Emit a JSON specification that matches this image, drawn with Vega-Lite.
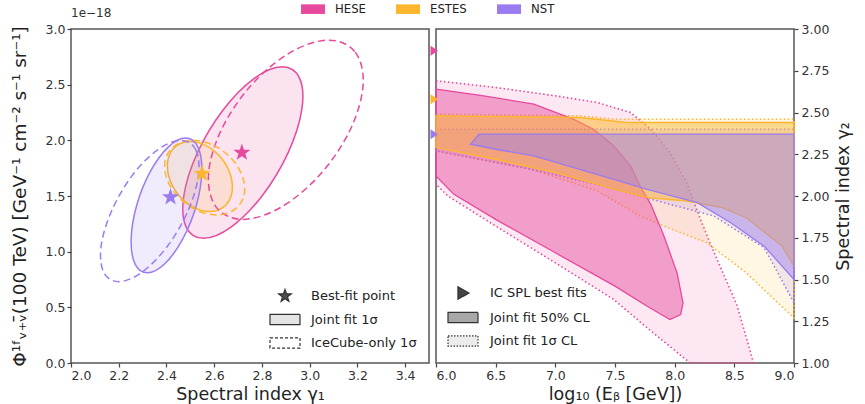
{
  "$schema": "https://vega.github.io/schema/vega-lite/v6.json",
  "padding": {"left": 9, "top": 3, "right": 6, "bottom": 4},
  "background": "white",
  "config": {
    "font": "DejaVu Sans",
    "view": {"stroke": "#555555", "strokeWidth": 1.5},
    "axis": {
      "labelFont": "DejaVu Sans", "titleFont": "DejaVu Sans",
      "labelFontSize": 12.5, "titleFontSize": 17.5, "titleFontWeight": "normal",
      "labelColor": "#333333", "titleColor": "#222222",
      "tickColor": "#444444", "tickSize": 4, "tickWidth": 1.2,
      "domain": false, "grid": false, "labelPadding": 2
    },
    "legend": {"labelFont": "DejaVu Sans", "labelColor": "#222222", "layout": {"top": {"anchor": "middle"}}}
  },
  "datasets": {
    "ellipses": [
      {"sample": "HESE", "fit": "joint", "i": 0, "gamma1": 2.885, "flux": 2.66},
      {"sample": "HESE", "fit": "joint", "i": 1, "gamma1": 2.958, "flux": 2.557},
      {"sample": "HESE", "fit": "joint", "i": 2, "gamma1": 2.967, "flux": 2.275},
      {"sample": "HESE", "fit": "joint", "i": 3, "gamma1": 2.91, "flux": 1.89},
      {"sample": "HESE", "fit": "joint", "i": 4, "gamma1": 2.802, "flux": 1.505},
      {"sample": "HESE", "fit": "joint", "i": 5, "gamma1": 2.672, "flux": 1.223},
      {"sample": "HESE", "fit": "joint", "i": 6, "gamma1": 2.555, "flux": 1.12},
      {"sample": "HESE", "fit": "joint", "i": 7, "gamma1": 2.482, "flux": 1.223},
      {"sample": "HESE", "fit": "joint", "i": 8, "gamma1": 2.473, "flux": 1.505},
      {"sample": "HESE", "fit": "joint", "i": 9, "gamma1": 2.53, "flux": 1.89},
      {"sample": "HESE", "fit": "joint", "i": 10, "gamma1": 2.638, "flux": 2.275},
      {"sample": "HESE", "fit": "joint", "i": 11, "gamma1": 2.768, "flux": 2.557},
      {"sample": "ESTES", "fit": "joint", "i": 0, "gamma1": 2.50, "flux": 1.99},
      {"sample": "ESTES", "fit": "joint", "i": 1, "gamma1": 2.570, "flux": 1.948},
      {"sample": "ESTES", "fit": "joint", "i": 2, "gamma1": 2.633, "flux": 1.833},
      {"sample": "ESTES", "fit": "joint", "i": 3, "gamma1": 2.67, "flux": 1.675},
      {"sample": "ESTES", "fit": "joint", "i": 4, "gamma1": 2.673, "flux": 1.518},
      {"sample": "ESTES", "fit": "joint", "i": 5, "gamma1": 2.640, "flux": 1.402},
      {"sample": "ESTES", "fit": "joint", "i": 6, "gamma1": 2.58, "flux": 1.36},
      {"sample": "ESTES", "fit": "joint", "i": 7, "gamma1": 2.510, "flux": 1.402},
      {"sample": "ESTES", "fit": "joint", "i": 8, "gamma1": 2.447, "flux": 1.518},
      {"sample": "ESTES", "fit": "joint", "i": 9, "gamma1": 2.41, "flux": 1.675},
      {"sample": "ESTES", "fit": "joint", "i": 10, "gamma1": 2.407, "flux": 1.833},
      {"sample": "ESTES", "fit": "joint", "i": 11, "gamma1": 2.440, "flux": 1.948},
      {"sample": "NST", "fit": "joint", "i": 0, "gamma1": 2.48, "flux": 2.02},
      {"sample": "NST", "fit": "joint", "i": 1, "gamma1": 2.532, "flux": 1.939},
      {"sample": "NST", "fit": "joint", "i": 2, "gamma1": 2.548, "flux": 1.718},
      {"sample": "NST", "fit": "joint", "i": 3, "gamma1": 2.525, "flux": 1.415},
      {"sample": "NST", "fit": "joint", "i": 4, "gamma1": 2.468, "flux": 1.113},
      {"sample": "NST", "fit": "joint", "i": 5, "gamma1": 2.393, "flux": 0.891},
      {"sample": "NST", "fit": "joint", "i": 6, "gamma1": 2.32, "flux": 0.81},
      {"sample": "NST", "fit": "joint", "i": 7, "gamma1": 2.268, "flux": 0.891},
      {"sample": "NST", "fit": "joint", "i": 8, "gamma1": 2.252, "flux": 1.113},
      {"sample": "NST", "fit": "joint", "i": 9, "gamma1": 2.275, "flux": 1.415},
      {"sample": "NST", "fit": "joint", "i": 10, "gamma1": 2.332, "flux": 1.718},
      {"sample": "NST", "fit": "joint", "i": 11, "gamma1": 2.407, "flux": 1.939},
      {"sample": "HESE", "fit": "icecube", "i": 0, "gamma1": 3.08, "flux": 2.90},
      {"sample": "HESE", "fit": "icecube", "i": 1, "gamma1": 3.191, "flux": 2.792},
      {"sample": "HESE", "fit": "icecube", "i": 2, "gamma1": 3.224, "flux": 2.498},
      {"sample": "HESE", "fit": "icecube", "i": 3, "gamma1": 3.17, "flux": 2.095},
      {"sample": "HESE", "fit": "icecube", "i": 4, "gamma1": 3.044, "flux": 1.693},
      {"sample": "HESE", "fit": "icecube", "i": 5, "gamma1": 2.879, "flux": 1.398},
      {"sample": "HESE", "fit": "icecube", "i": 6, "gamma1": 2.72, "flux": 1.29},
      {"sample": "HESE", "fit": "icecube", "i": 7, "gamma1": 2.609, "flux": 1.398},
      {"sample": "HESE", "fit": "icecube", "i": 8, "gamma1": 2.576, "flux": 1.693},
      {"sample": "HESE", "fit": "icecube", "i": 9, "gamma1": 2.63, "flux": 2.095},
      {"sample": "HESE", "fit": "icecube", "i": 10, "gamma1": 2.756, "flux": 2.498},
      {"sample": "HESE", "fit": "icecube", "i": 11, "gamma1": 2.921, "flux": 2.792},
      {"sample": "ESTES", "fit": "icecube", "i": 0, "gamma1": 2.51, "flux": 2.00},
      {"sample": "ESTES", "fit": "icecube", "i": 1, "gamma1": 2.597, "flux": 1.955},
      {"sample": "ESTES", "fit": "icecube", "i": 2, "gamma1": 2.674, "flux": 1.833},
      {"sample": "ESTES", "fit": "icecube", "i": 3, "gamma1": 2.72, "flux": 1.665},
      {"sample": "ESTES", "fit": "icecube", "i": 4, "gamma1": 2.724, "flux": 1.498},
      {"sample": "ESTES", "fit": "icecube", "i": 5, "gamma1": 2.683, "flux": 1.375},
      {"sample": "ESTES", "fit": "icecube", "i": 6, "gamma1": 2.61, "flux": 1.33},
      {"sample": "ESTES", "fit": "icecube", "i": 7, "gamma1": 2.523, "flux": 1.375},
      {"sample": "ESTES", "fit": "icecube", "i": 8, "gamma1": 2.446, "flux": 1.498},
      {"sample": "ESTES", "fit": "icecube", "i": 9, "gamma1": 2.40, "flux": 1.665},
      {"sample": "ESTES", "fit": "icecube", "i": 10, "gamma1": 2.396, "flux": 1.833},
      {"sample": "ESTES", "fit": "icecube", "i": 11, "gamma1": 2.437, "flux": 1.955},
      {"sample": "NST", "fit": "icecube", "i": 0, "gamma1": 2.46, "flux": 2.00},
      {"sample": "NST", "fit": "icecube", "i": 1, "gamma1": 2.523, "flux": 1.915},
      {"sample": "NST", "fit": "icecube", "i": 2, "gamma1": 2.534, "flux": 1.683},
      {"sample": "NST", "fit": "icecube", "i": 3, "gamma1": 2.49, "flux": 1.365},
      {"sample": "NST", "fit": "icecube", "i": 4, "gamma1": 2.404, "flux": 1.048},
      {"sample": "NST", "fit": "icecube", "i": 5, "gamma1": 2.297, "flux": 0.815},
      {"sample": "NST", "fit": "icecube", "i": 6, "gamma1": 2.20, "flux": 0.73},
      {"sample": "NST", "fit": "icecube", "i": 7, "gamma1": 2.137, "flux": 0.815},
      {"sample": "NST", "fit": "icecube", "i": 8, "gamma1": 2.126, "flux": 1.048},
      {"sample": "NST", "fit": "icecube", "i": 9, "gamma1": 2.17, "flux": 1.365},
      {"sample": "NST", "fit": "icecube", "i": 10, "gamma1": 2.256, "flux": 1.683},
      {"sample": "NST", "fit": "icecube", "i": 11, "gamma1": 2.363, "flux": 1.915}
    ],
    "bestfits": [
      {"sample": "HESE", "gamma1": 2.716, "flux": 1.89},
      {"sample": "ESTES", "gamma1": 2.549, "flux": 1.70},
      {"sample": "NST", "gamma1": 2.417, "flux": 1.49}
    ],
    "regions": [
      {"sample": "HESE", "cl": "1σ", "i": 0, "logEb": 6.0, "gamma2": 2.69},
      {"sample": "HESE", "cl": "1σ", "i": 1, "logEb": 6.5, "gamma2": 2.65},
      {"sample": "HESE", "cl": "1σ", "i": 2, "logEb": 7.0, "gamma2": 2.60},
      {"sample": "HESE", "cl": "1σ", "i": 3, "logEb": 7.35, "gamma2": 2.56},
      {"sample": "HESE", "cl": "1σ", "i": 4, "logEb": 7.63, "gamma2": 2.50},
      {"sample": "HESE", "cl": "1σ", "i": 5, "logEb": 7.80, "gamma2": 2.40},
      {"sample": "HESE", "cl": "1σ", "i": 6, "logEb": 7.96, "gamma2": 2.26},
      {"sample": "HESE", "cl": "1σ", "i": 7, "logEb": 8.10, "gamma2": 2.08},
      {"sample": "HESE", "cl": "1σ", "i": 8, "logEb": 8.20, "gamma2": 1.89},
      {"sample": "HESE", "cl": "1σ", "i": 9, "logEb": 8.29, "gamma2": 1.73},
      {"sample": "HESE", "cl": "1σ", "i": 10, "logEb": 8.38, "gamma2": 1.58},
      {"sample": "HESE", "cl": "1σ", "i": 11, "logEb": 8.52, "gamma2": 1.35},
      {"sample": "HESE", "cl": "1σ", "i": 12, "logEb": 8.63, "gamma2": 1.08},
      {"sample": "HESE", "cl": "1σ", "i": 13, "logEb": 8.66, "gamma2": 1.00},
      {"sample": "HESE", "cl": "1σ", "i": 14, "logEb": 8.13, "gamma2": 1.00},
      {"sample": "HESE", "cl": "1σ", "i": 15, "logEb": 7.77, "gamma2": 1.21},
      {"sample": "HESE", "cl": "1σ", "i": 16, "logEb": 7.49, "gamma2": 1.38},
      {"sample": "HESE", "cl": "1σ", "i": 17, "logEb": 7.0, "gamma2": 1.60},
      {"sample": "HESE", "cl": "1σ", "i": 18, "logEb": 6.5, "gamma2": 1.82},
      {"sample": "HESE", "cl": "1σ", "i": 19, "logEb": 6.1, "gamma2": 2.00},
      {"sample": "HESE", "cl": "1σ", "i": 20, "logEb": 6.0, "gamma2": 2.07},
      {"sample": "ESTES", "cl": "1σ", "i": 0, "logEb": 6.0, "gamma2": 2.49},
      {"sample": "ESTES", "cl": "1σ", "i": 1, "logEb": 7.2, "gamma2": 2.48},
      {"sample": "ESTES", "cl": "1σ", "i": 2, "logEb": 7.5, "gamma2": 2.46},
      {"sample": "ESTES", "cl": "1σ", "i": 3, "logEb": 9.0, "gamma2": 2.46},
      {"sample": "ESTES", "cl": "1σ", "i": 4, "logEb": 9.0, "gamma2": 1.27},
      {"sample": "ESTES", "cl": "1σ", "i": 5, "logEb": 8.6, "gamma2": 1.54},
      {"sample": "ESTES", "cl": "1σ", "i": 6, "logEb": 8.27, "gamma2": 1.72},
      {"sample": "ESTES", "cl": "1σ", "i": 7, "logEb": 7.91, "gamma2": 1.82},
      {"sample": "ESTES", "cl": "1σ", "i": 8, "logEb": 7.71, "gamma2": 1.88},
      {"sample": "ESTES", "cl": "1σ", "i": 9, "logEb": 7.35, "gamma2": 2.03},
      {"sample": "ESTES", "cl": "1σ", "i": 10, "logEb": 6.8, "gamma2": 2.16},
      {"sample": "ESTES", "cl": "1σ", "i": 11, "logEb": 6.0, "gamma2": 2.27},
      {"sample": "NST", "cl": "1σ", "i": 0, "logEb": 6.0, "gamma2": 2.40},
      {"sample": "NST", "cl": "1σ", "i": 1, "logEb": 9.0, "gamma2": 2.40},
      {"sample": "NST", "cl": "1σ", "i": 2, "logEb": 9.0, "gamma2": 1.36},
      {"sample": "NST", "cl": "1σ", "i": 3, "logEb": 8.75, "gamma2": 1.69},
      {"sample": "NST", "cl": "1σ", "i": 4, "logEb": 8.33, "gamma2": 1.88},
      {"sample": "NST", "cl": "1σ", "i": 5, "logEb": 7.91, "gamma2": 1.96},
      {"sample": "NST", "cl": "1σ", "i": 6, "logEb": 7.4, "gamma2": 2.06},
      {"sample": "NST", "cl": "1σ", "i": 7, "logEb": 6.8, "gamma2": 2.16},
      {"sample": "NST", "cl": "1σ", "i": 8, "logEb": 6.0, "gamma2": 2.27},
      {"sample": "HESE", "cl": "50%", "i": 0, "logEb": 6.0, "gamma2": 2.64},
      {"sample": "HESE", "cl": "50%", "i": 1, "logEb": 6.4, "gamma2": 2.60},
      {"sample": "HESE", "cl": "50%", "i": 2, "logEb": 6.82, "gamma2": 2.55},
      {"sample": "HESE", "cl": "50%", "i": 3, "logEb": 7.15, "gamma2": 2.46},
      {"sample": "HESE", "cl": "50%", "i": 4, "logEb": 7.32, "gamma2": 2.40},
      {"sample": "HESE", "cl": "50%", "i": 5, "logEb": 7.49, "gamma2": 2.30},
      {"sample": "HESE", "cl": "50%", "i": 6, "logEb": 7.63, "gamma2": 2.18},
      {"sample": "HESE", "cl": "50%", "i": 7, "logEb": 7.71, "gamma2": 2.06},
      {"sample": "HESE", "cl": "50%", "i": 8, "logEb": 7.80, "gamma2": 1.95},
      {"sample": "HESE", "cl": "50%", "i": 9, "logEb": 7.91, "gamma2": 1.76},
      {"sample": "HESE", "cl": "50%", "i": 10, "logEb": 8.02, "gamma2": 1.54},
      {"sample": "HESE", "cl": "50%", "i": 11, "logEb": 8.07, "gamma2": 1.36},
      {"sample": "HESE", "cl": "50%", "i": 12, "logEb": 8.05, "gamma2": 1.29},
      {"sample": "HESE", "cl": "50%", "i": 13, "logEb": 7.96, "gamma2": 1.26},
      {"sample": "HESE", "cl": "50%", "i": 14, "logEb": 7.77, "gamma2": 1.34},
      {"sample": "HESE", "cl": "50%", "i": 15, "logEb": 7.5, "gamma2": 1.46},
      {"sample": "HESE", "cl": "50%", "i": 16, "logEb": 7.0, "gamma2": 1.66},
      {"sample": "HESE", "cl": "50%", "i": 17, "logEb": 6.5, "gamma2": 1.86},
      {"sample": "HESE", "cl": "50%", "i": 18, "logEb": 6.15, "gamma2": 2.01},
      {"sample": "HESE", "cl": "50%", "i": 19, "logEb": 6.0, "gamma2": 2.12},
      {"sample": "ESTES", "cl": "50%", "i": 0, "logEb": 6.0, "gamma2": 2.48},
      {"sample": "ESTES", "cl": "50%", "i": 1, "logEb": 7.2, "gamma2": 2.47},
      {"sample": "ESTES", "cl": "50%", "i": 2, "logEb": 7.6, "gamma2": 2.44},
      {"sample": "ESTES", "cl": "50%", "i": 3, "logEb": 9.0, "gamma2": 2.44},
      {"sample": "ESTES", "cl": "50%", "i": 4, "logEb": 9.0, "gamma2": 1.58},
      {"sample": "ESTES", "cl": "50%", "i": 5, "logEb": 8.9, "gamma2": 1.70},
      {"sample": "ESTES", "cl": "50%", "i": 6, "logEb": 8.6, "gamma2": 1.87},
      {"sample": "ESTES", "cl": "50%", "i": 7, "logEb": 8.4, "gamma2": 1.93},
      {"sample": "ESTES", "cl": "50%", "i": 8, "logEb": 8.1, "gamma2": 1.97},
      {"sample": "ESTES", "cl": "50%", "i": 9, "logEb": 7.77, "gamma2": 1.99},
      {"sample": "ESTES", "cl": "50%", "i": 10, "logEb": 7.5, "gamma2": 2.04},
      {"sample": "ESTES", "cl": "50%", "i": 11, "logEb": 7.0, "gamma2": 2.14},
      {"sample": "ESTES", "cl": "50%", "i": 12, "logEb": 6.5, "gamma2": 2.22},
      {"sample": "ESTES", "cl": "50%", "i": 13, "logEb": 6.0, "gamma2": 2.29},
      {"sample": "NST", "cl": "50%", "i": 0, "logEb": 6.29, "gamma2": 2.31},
      {"sample": "NST", "cl": "50%", "i": 1, "logEb": 6.36, "gamma2": 2.37},
      {"sample": "NST", "cl": "50%", "i": 2, "logEb": 9.0, "gamma2": 2.37},
      {"sample": "NST", "cl": "50%", "i": 3, "logEb": 9.0, "gamma2": 1.50},
      {"sample": "NST", "cl": "50%", "i": 4, "logEb": 8.75, "gamma2": 1.70},
      {"sample": "NST", "cl": "50%", "i": 5, "logEb": 8.47, "gamma2": 1.84},
      {"sample": "NST", "cl": "50%", "i": 6, "logEb": 8.19, "gamma2": 1.96},
      {"sample": "NST", "cl": "50%", "i": 7, "logEb": 7.77, "gamma2": 2.04},
      {"sample": "NST", "cl": "50%", "i": 8, "logEb": 7.49, "gamma2": 2.10},
      {"sample": "NST", "cl": "50%", "i": 9, "logEb": 6.82, "gamma2": 2.24},
      {"sample": "NST", "cl": "50%", "i": 10, "logEb": 6.5, "gamma2": 2.28}
    ],
    "splfits": [
      {"sample": "HESE", "gamma2": 2.87},
      {"sample": "ESTES", "gamma2": 2.58},
      {"sample": "NST", "gamma2": 2.37}
    ]
  },
  "bounds": "flush",
  "spacing": 7,
  "resolve": {
    "scale": {"color": "shared", "shape": "independent", "strokeDash": "independent", "fill": "independent", "stroke": "independent"},
    "legend": {"color": "shared", "shape": "independent", "strokeDash": "independent", "fill": "independent", "stroke": "independent"}
  },
  "hconcat": [
    {
      "width": 358,
      "height": 334,
      "title": {"text": "1e−18", "anchor": "start", "frame": "group", "fontSize": 12, "fontWeight": "normal", "color": "#333333", "font": "DejaVu Sans", "offset": 3},
      "layer": [
        {
          "data": {"values": [{"sample": "HESE"}, {"sample": "ESTES"}, {"sample": "NST"}]},
          "mark": {"type": "point", "filled": true, "opacity": 0, "shape": "M-2,-0.8H2V0.8H-2Z"},
          "encoding": {
            "color": {"field": "sample", "type": "nominal", "sort": null,
                      "scale": {"domain": ["HESE", "ESTES", "NST"], "range": ["#e7499c", "#fdb62d", "#9b7cf0"]},
                      "legend": {"orient": "top", "direction": "horizontal", "title": null, "offset": -10,
                                 "symbolType": "M-2,-0.8H2V0.8H-2Z", "symbolSize": 144, "symbolOpacity": 1, "symbolStrokeWidth": 0,
                                 "labelFontSize": 11.7, "labelOffset": 16, "columnPadding": 30, "padding": 0}}
          }
        },
        {
          "data": {"name": "ellipses"},
          "transform": [{"filter": "datum.fit === 'joint'"}],
          "mark": {"type": "line", "filled": true, "interpolate": "cardinal-closed", "strokeWidth": 1.5, "fillOpacity": 0.15},
          "encoding": {
            "x": {"field": "gamma1", "type": "quantitative", "scale": {"domain": [2.0, 3.5], "nice": false, "zero": false},
                  "axis": {"values": [2.0, 2.2, 2.4, 2.6, 2.8, 3.0, 3.2, 3.4], "format": ".1f", "title": "Spectral index γ₁", "titlePadding": 4}},
            "y": {"field": "flux", "type": "quantitative", "scale": {"domain": [0, 3.0], "nice": false},
                  "axis": {"values": [0, 0.5, 1.0, 1.5, 2.0, 2.5, 3.0], "format": ".1f", "title": "Φ¹ᶠᵥ₊ᵥ̄(100 TeV) [GeV⁻¹ cm⁻² s⁻¹ sr⁻¹]", "titleFontSize": 18.5, "titlePadding": 16}},
            "order": {"field": "i", "type": "quantitative"},
            "color": {"field": "sample", "type": "nominal", "sort": null},
            "stroke": {"field": "sample", "type": "nominal", "sort": null, "scale": {"domain": ["HESE", "ESTES", "NST"], "range": ["#e7499c", "#fdb62d", "#9b7cf0"]}, "legend": null}
          }
        },
        {
          "data": {"name": "ellipses"},
          "transform": [{"filter": "datum.fit === 'icecube'"}],
          "mark": {"type": "line", "interpolate": "cardinal-closed", "strokeWidth": 1.5, "strokeDash": [7, 4]},
          "encoding": {
            "x": {"field": "gamma1", "type": "quantitative"},
            "y": {"field": "flux", "type": "quantitative"},
            "order": {"field": "i", "type": "quantitative"},
            "stroke": {"field": "sample", "type": "nominal", "sort": null, "legend": null}
          }
        },
        {
          "data": {"name": "bestfits"},
          "mark": {"type": "point", "filled": true, "opacity": 1, "size": 324, "strokeWidth": 0,
                   "shape": "M0,-1L0.235,-0.324L0.951,-0.309L0.38,0.124L0.588,0.809L0,0.4L-0.588,0.809L-0.38,0.124L-0.951,-0.309L-0.235,-0.324Z"},
          "encoding": {
            "x": {"field": "gamma1", "type": "quantitative"},
            "y": {"field": "flux", "type": "quantitative"},
            "color": {"field": "sample", "type": "nominal", "sort": null}
          }
        },
        {
          "mark": {"type": "text", "align": "left", "baseline": "top", "dx": 5, "dy": 5, "fontSize": 14.3, "color": "#222222"},
          "encoding": {"x": {"datum": 2.0}, "y": {"datum": 3.0}, "text": {"value": "Single power law"}}
        },
        {
          "data": {"values": [{"key": "Best-fit point"}, {"key": "Joint fit 1σ"}, {"key": "IceCube-only 1σ"}]},
          "mark": {"type": "point", "filled": true, "stroke": "#333333", "strokeWidth": 1.2, "opacity": 0},
          "encoding": {
            "shape": {"field": "key", "type": "nominal", "sort": null,
                      "scale": {"domain": ["Best-fit point", "Joint fit 1σ", "IceCube-only 1σ"],
                                "range": ["M0,-0.55L0.129,-0.178L0.523,-0.17L0.209,0.068L0.323,0.445L0,0.22L-0.323,0.445L-0.209,0.068L-0.523,-0.17L-0.129,-0.178Z", "M-1.25,-0.42H1.25V0.42H-1.25Z", "M-1.25,-0.42H1.25V0.42H-1.25Z"]},
                      "legend": {"orient": "bottom-right", "title": null, "offset": 12, "padding": 0, "symbolSize": 576, "symbolOpacity": 1,
                                 "symbolStrokeWidth": 1.2, "labelFontSize": 13, "labelOffset": 13, "rowPadding": 2.5}},
            "fill": {"field": "key", "type": "nominal", "sort": null,
                     "scale": {"domain": ["Best-fit point", "Joint fit 1σ", "IceCube-only 1σ"], "range": ["#4d4d4d", "#e4e4e4", "#ffffff"]},
                     "legend": {"orient": "bottom-right", "title": null, "offset": 12, "padding": 0, "symbolSize": 576, "symbolOpacity": 1,
                                "symbolStrokeWidth": 1.2, "labelFontSize": 13, "labelOffset": 13, "rowPadding": 2.5}},
            "strokeDash": {"field": "key", "type": "nominal", "sort": null,
                           "scale": {"domain": ["Best-fit point", "Joint fit 1σ", "IceCube-only 1σ"], "range": [[1, 0], [1, 0], [3, 2]]},
                           "legend": {"orient": "bottom-right", "title": null, "offset": 12, "padding": 0, "symbolSize": 576, "symbolOpacity": 1,
                                      "symbolStrokeWidth": 1.2, "labelFontSize": 13, "labelOffset": 13, "rowPadding": 2.5}}
          }
        }
      ]
    },
    {
      "width": 358,
      "height": 334,
      "layer": [
        {
          "data": {"name": "regions"},
          "transform": [{"filter": "datum.cl === '1σ'"}],
          "mark": {"type": "line", "filled": true, "interpolate": "linear-closed", "strokeWidth": 1.6, "strokeDash": [1.5, 2.5], "fillOpacity": 0.13},
          "encoding": {
            "x": {"field": "logEb", "type": "quantitative", "scale": {"domain": [6.0, 9.0], "nice": false, "zero": false},
                  "axis": {"values": [6.0, 6.5, 7.0, 7.5, 8.0, 8.5, 9.0], "format": ".1f", "title": "log₁₀ (Eᵦ [GeV])", "titlePadding": 4}},
            "y": {"field": "gamma2", "type": "quantitative", "scale": {"domain": [1.0, 3.0], "nice": false, "zero": false},
                  "axis": {"orient": "right", "values": [1.0, 1.25, 1.5, 1.75, 2.0, 2.25, 2.5, 2.75, 3.0], "format": ".2f", "title": "Spectral index γ₂", "titleAngle": 270, "titleBaseline": "top", "titlePadding": 6, "labelPadding": 3}},
            "order": {"field": "i", "type": "quantitative"},
            "color": {"field": "sample", "type": "nominal", "sort": null},
            "stroke": {"field": "sample", "type": "nominal", "sort": null, "scale": {"domain": ["HESE", "ESTES", "NST"], "range": ["#e7499c", "#fdb62d", "#9b7cf0"]}, "legend": null}
          }
        },
        {
          "data": {"name": "regions"},
          "transform": [{"filter": "datum.cl === '50%'"}],
          "mark": {"type": "line", "filled": true, "interpolate": "linear-closed", "strokeWidth": 1.3, "fillOpacity": 0.46},
          "encoding": {
            "x": {"field": "logEb", "type": "quantitative"},
            "y": {"field": "gamma2", "type": "quantitative"},
            "order": {"field": "i", "type": "quantitative"},
            "color": {"field": "sample", "type": "nominal", "sort": null},
            "stroke": {"field": "sample", "type": "nominal", "sort": null, "legend": null}
          }
        },
        {
          "data": {"name": "splfits"},
          "mark": {"type": "point", "filled": true, "opacity": 1, "size": 100, "strokeWidth": 0, "shape": "M-1.1,-1L0.4,0L-1.1,1Z"},
          "encoding": {
            "x": {"datum": 6.0},
            "y": {"field": "gamma2", "type": "quantitative"},
            "color": {"field": "sample", "type": "nominal", "sort": null}
          }
        },
        {
          "mark": {"type": "text", "align": "left", "baseline": "top", "dx": 5, "dy": 5, "fontSize": 14.3, "color": "#222222"},
          "encoding": {"x": {"datum": 6.0}, "y": {"datum": 3.0}, "text": {"value": "Broken power law"}}
        },
        {
          "data": {"values": [{"key": "IC SPL best fits"}, {"key": "Joint fit 50% CL"}, {"key": "Joint fit 1σ CL"}]},
          "mark": {"type": "point", "filled": true, "stroke": "#333333", "strokeWidth": 1.2, "opacity": 0},
          "encoding": {
            "shape": {"field": "key", "type": "nominal", "sort": null,
                      "scale": {"domain": ["IC SPL best fits", "Joint fit 50% CL", "Joint fit 1σ CL"],
                                "range": ["M-0.42,-0.52L0.5,0L-0.42,0.52Z", "M-1.25,-0.42H1.25V0.42H-1.25Z", "M-1.25,-0.42H1.25V0.42H-1.25Z"]},
                      "legend": {"orient": "bottom-left", "title": null, "offset": 14, "padding": 0, "symbolSize": 576, "symbolOpacity": 1,
                                 "symbolStrokeWidth": 1.2, "labelFontSize": 13, "labelOffset": 14, "rowPadding": 2.5}},
            "fill": {"field": "key", "type": "nominal", "sort": null,
                     "scale": {"domain": ["IC SPL best fits", "Joint fit 50% CL", "Joint fit 1σ CL"], "range": ["#444444", "#a8a8a8", "#ececec"]},
                     "legend": {"orient": "bottom-left", "title": null, "offset": 14, "padding": 0, "symbolSize": 576, "symbolOpacity": 1,
                                "symbolStrokeWidth": 1.2, "labelFontSize": 13, "labelOffset": 14, "rowPadding": 2.5}},
            "strokeDash": {"field": "key", "type": "nominal", "sort": null,
                           "scale": {"domain": ["IC SPL best fits", "Joint fit 50% CL", "Joint fit 1σ CL"], "range": [[1, 0], [1, 0], [1.5, 1.5]]},
                           "legend": {"orient": "bottom-left", "title": null, "offset": 14, "padding": 0, "symbolSize": 576, "symbolOpacity": 1,
                                      "symbolStrokeWidth": 1.2, "labelFontSize": 13, "labelOffset": 14, "rowPadding": 2.5}}
          }
        }
      ]
    }
  ]
}
